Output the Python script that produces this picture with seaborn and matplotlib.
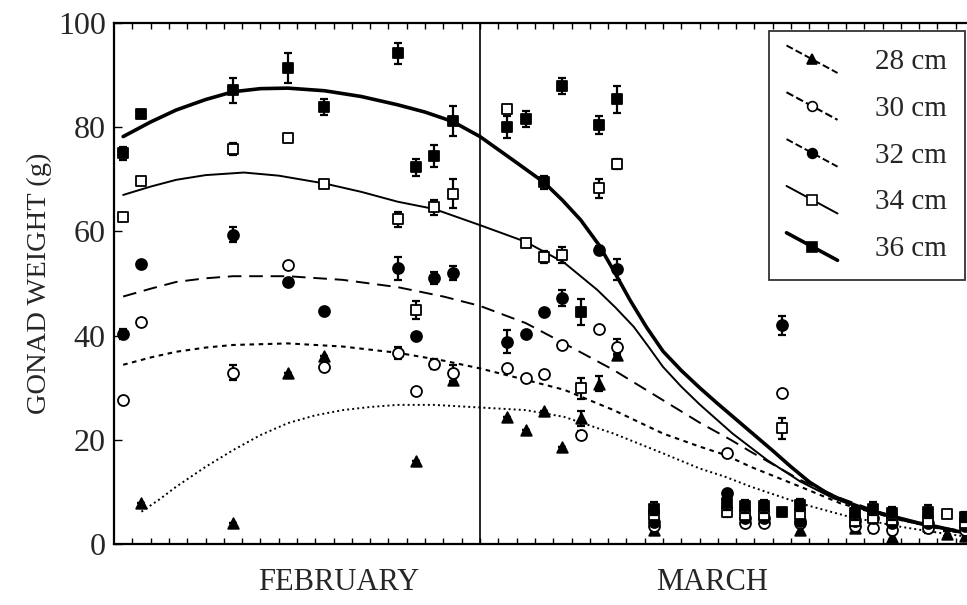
import matplotlib
matplotlib.use("Agg")
import matplotlib.pyplot as plt
import matplotlib.transforms as mtransforms
from matplotlib.legend_handler import HandlerLine2D
from matplotlib.lines import Line2D
import seaborn as sns
import pandas as pd

# Sampling positions on the time axis (one unit per tick; Feb/Mar boundary at 20)
feb_x = [0.5, 1.5, 6.5, 9.5, 11.5, 15.5, 16.5, 17.5, 18.5]
mar_x = [21.5, 22.5, 23.5, 24.5, 25.5, 26.5, 27.5]

# ---- mean gonad weight (g) and error per size class ----
x36 = feb_x + mar_x + [29.5, 33.5, 34.5, 35.5, 36.5, 37.5, 40.5, 41.5, 42.5, 44.5, 46.5]
y36 = [75.0, 82.5, 87.1, 91.3, 83.9, 94.2, 72.3, 74.5, 81.2,
       80.0, 81.6, 69.4, 87.9, 44.6, 80.4, 85.4,
       6.8, 7.8, 7.2, 7.2, 6.2, 7.5, 5.9, 6.8, 5.9, 6.2, 5.2]
e36 = [1.2, 0.0, 2.4, 2.9, 1.5, 2.0, 1.6, 2.1, 2.8,
       2.1, 1.5, 1.3, 1.5, 2.5, 1.7, 2.6,
       1.2, 1.2, 1.2, 1.2, 0.0, 1.2, 1.2, 1.2, 1.2, 1.2, 1.0]

x34 = feb_x + mar_x + [29.5, 33.5, 34.5, 35.5, 36.5, 37.5, 40.5, 41.5, 42.5, 44.5, 45.5, 46.5]
y34 = [62.7, 69.7, 75.8, 77.9, 69.1, 62.3, 44.9, 64.6, 67.2,
       83.5, 57.8, 55.1, 55.5, 29.9, 68.3, 72.9,
       5.6, 6.2, 5.6, 5.6, 22.2, 5.8, 4.5, 5.0, 4.6, 4.5, 5.8, 4.0]
e34 = [0.0, 0.0, 1.2, 0.8, 0.8, 1.5, 1.8, 1.5, 2.8,
       0.0, 0.8, 1.2, 1.5, 2.0, 1.8, 1.0,
       1.0, 1.0, 1.0, 1.0, 2.0, 1.0, 1.0, 1.0, 1.0, 1.0, 0.8, 0.8]

x32 = feb_x + [21.5, 22.5, 23.5, 24.5, 26.5, 27.5] + [29.5, 33.5, 34.5, 35.5, 36.5, 37.5, 40.5, 41.5, 42.5, 44.5, 46.5]
y32 = [40.3, 53.7, 59.4, 50.2, 44.7, 52.9, 40.0, 51.1, 52.0,
       38.8, 40.3, 44.6, 47.2, 56.4, 52.7,
       4.2, 9.7, 5.0, 5.0, 42.0, 4.5, 4.5, 5.0, 4.0, 4.0, 3.5]
e32 = [1.0, 0.0, 1.5, 0.0, 0.0, 2.2, 0.0, 1.2, 1.3,
       2.2, 0.0, 0.0, 1.5, 0.8, 2.0,
       0.0, 0.0, 0.8, 0.8, 1.8, 0.8, 0.8, 0.8, 0.8, 0.8, 0.8]

x30 = feb_x + mar_x + [29.5, 33.5, 34.5, 35.5, 36.5, 37.5, 40.5, 41.5, 42.5, 44.5, 46.5]
y30 = [27.6, 42.7, 32.9, 53.6, 34.0, 36.7, 29.4, 34.5, 32.8,
       33.8, 31.8, 32.6, 38.2, 20.9, 41.2, 37.9,
       3.5, 17.5, 4.0, 4.0, 29.0, 4.0, 3.5, 3.0, 2.7, 3.0, 2.7]
e30 = [0.0, 0.0, 1.5, 0.0, 0.0, 1.2, 0.0, 1.0, 1.5,
       0.0, 0.0, 0.0, 0.0, 0.8, 0.0, 1.5,
       0.0, 0.0, 0.8, 0.8, 0.0, 0.8, 0.8, 0.8, 0.8, 0.8, 0.6]

x28 = [1.5, 6.5, 9.5, 11.5, 16.5, 18.5] + mar_x + [29.5, 37.5, 40.5, 42.5, 44.5, 45.5, 46.5]
y28 = [7.9, 4.0, 32.9, 36.0, 15.9, 31.5,
       24.4, 21.9, 25.6, 18.7, 24.1, 30.8, 36.3,
       2.7, 2.7, 3.0, 1.4, 3.5, 2.0, 1.5]
e28 = [0.0, 0.0, 0.0, 0.0, 0.0, 0.8,
       0.0, 0.0, 0.0, 0.0, 1.5, 1.5, 0.0,
       0.0, 0.6, 0.6, 0.6, 0.6, 0.5, 0.5]

# ---- fitted seasonal curves ----
c36_x = [0.5, 2.0, 3.4, 5.0, 6.5, 8.0, 9.5, 11.5, 13.5, 15.5, 17.0, 18.5, 20.0, 21.8, 23.5,
         24.5, 25.5, 26.5, 27.3, 28.2, 29.1, 30.0, 31.0, 32.0, 33.0, 34.0, 35.0, 36.0, 37.0,
         38.0, 39.0, 40.0, 41.0, 42.0, 43.0, 44.0, 45.0, 46.4, 47.5]
c36_y = [78.2, 81.0, 83.3, 85.3, 86.8, 87.4, 87.5, 87.0, 85.9, 84.3, 82.9, 81.1, 78.2, 73.7, 69.4,
         66.0, 62.2, 57.4, 52.5, 46.8, 41.6, 37.0, 33.3, 30.0, 26.9, 23.9, 20.9, 17.9, 14.8,
         11.9, 9.7, 8.1, 6.8, 5.8, 4.9, 4.0, 3.3, 2.2, 1.7]
c34_x = [0.5, 2.0, 3.4, 5.0, 7.1, 9.0, 11.5, 13.5, 15.5, 17.5, 20.0, 22.5, 24.6, 26.4, 27.4,
         28.4, 29.2, 30.0, 31.0, 32.0, 33.8, 35.7, 37.5, 39.3, 41.1, 43.0, 44.8, 46.4, 47.5]
c34_y = [67.0, 68.6, 69.9, 70.8, 71.3, 70.7, 69.2, 67.6, 65.7, 64.3, 61.2, 58.0, 54.0, 48.8, 45.4,
         41.7, 37.9, 34.0, 30.2, 26.8, 21.2, 16.1, 12.0, 8.8, 6.5, 4.6, 3.2, 2.3, 1.9]
c32_x = [0.5, 2.0, 3.4, 5.0, 6.5, 9.5, 12.5, 15.5, 18.0, 20.0, 22.5, 24.6, 27.3, 30.0, 32.0,
         33.7, 34.8, 36.2, 37.5, 39.7, 41.5, 43.0, 44.8, 46.4, 47.5]
c32_y = [47.5, 49.0, 50.3, 51.0, 51.4, 51.4, 50.7, 49.3, 47.5, 45.7, 42.4, 38.5, 33.4, 27.6, 23.3,
         20.0, 17.7, 14.9, 12.3, 8.8, 6.5, 4.8, 3.4, 2.5, 2.1]
c30_x = [0.5, 2.0, 3.4, 5.0, 6.5, 9.5, 12.5, 15.5, 18.0, 20.0, 22.5, 24.6, 27.3, 30.0, 32.0,
         33.4, 34.8, 37.5, 39.7, 41.5, 43.0, 44.8, 46.4, 47.5]
c30_y = [34.4, 35.8, 36.9, 37.7, 38.2, 38.5, 37.9, 36.7, 35.2, 33.7, 31.5, 29.6, 25.7, 21.2, 18.7,
         17.1, 14.8, 11.0, 7.8, 6.0, 4.6, 3.2, 2.0, 1.7]
c28_x = [1.5, 2.5, 3.4, 5.0, 6.5, 8.0, 9.5, 11.0, 12.5, 14.0, 15.5, 17.5, 20.0, 22.5, 24.6,
         27.3, 30.0, 32.0, 33.4, 34.8, 37.5, 40.2, 43.0, 44.8, 46.4, 47.5]
c28_y = [6.2, 8.6, 11.0, 14.8, 18.0, 20.9, 23.2, 24.7, 25.7, 26.3, 26.7, 26.7, 26.2, 25.7, 24.4,
         21.2, 17.4, 14.5, 12.9, 11.0, 7.8, 5.2, 3.3, 2.3, 1.5, 1.2]

labels = ["28 cm", "30 cm", "32 cm", "34 cm", "36 cm"]
y_ticks = [0, 20, 40, 60, 80, 100]
month_names = ["FEBRUARY", "MARCH"]
month_pos = [12.3, 32.7]
month_edge = 20.0

sns.set_theme(style="white")
plt.rcParams["font.family"] = ["Liberation Serif", "DejaVu Serif"]

W, H = 967, 605
fig = plt.figure(figsize=(W / 100, H / 100), dpi=100)
x_max = 47.5
px_per_unit = 18.3
ax_left = 114 / W
ax_bottom = 1 - 544 / H
ax_height = (544 - 23) / H
ax_width = x_max * px_per_unit / W
ax = fig.add_axes([ax_left, ax_bottom, ax_width, ax_height])

styles = {
    "28 cm": dict(ls=(0, (1, 1.6)), lw=1.4, marker="^", mfc="black"),
    "30 cm": dict(ls=(0, (2.2, 2.2)), lw=1.5, marker="o", mfc="white"),
    "32 cm": dict(ls=(0, (7, 4)), lw=1.4, marker="o", mfc="black"),
    "34 cm": dict(ls="-", lw=1.4, marker="s", mfc="white"),
    "36 cm": dict(ls="-", lw=2.6, marker="s", mfc="black"),
}

curves = {
    "28 cm": (c28_x, c28_y), "30 cm": (c30_x, c30_y), "32 cm": (c32_x, c32_y),
    "34 cm": (c34_x, c34_y), "36 cm": (c36_x, c36_y),
}
points = {
    "28 cm": (x28, y28, e28), "30 cm": (x30, y30, e30), "32 cm": (x32, y32, e32),
    "34 cm": (x34, y34, e34), "36 cm": (x36, y36, e36),
}

# fitted curves
for lab in labels:
    cx, cy = curves[lab]
    st = styles[lab]
    df = pd.DataFrame({"x": cx, "y": cy})
    sns.lineplot(data=df, x="x", y="y", ax=ax, color="black", lw=st["lw"],
                 linestyle=st["ls"], sort=False, estimator=None, zorder=2)

# observed means with error bars
for i, lab in enumerate(labels):
    px, py, pe = points[lab]
    st = styles[lab]
    ax.errorbar(px, py, yerr=pe, fmt="none", ecolor="black", elinewidth=1.6,
                capsize=3, capthick=1.6, zorder=3 + i)
    df = pd.DataFrame({"x": px, "y": py})
    ms = 62 if st["marker"] != "^" else 58
    sns.scatterplot(data=df, x="x", y="y", ax=ax, marker=st["marker"], s=ms,
                    color=st["mfc"], edgecolor="black", linewidth=1.3,
                    zorder=3 + i, legend=False)

ax.axvline(month_edge, color="black", lw=1.2, zorder=1)

ax.set_xlim(0, x_max)
ax.set_ylim(0, 100)
ax.set_yticks(y_ticks)
ax.set_yticklabels([str(v) for v in y_ticks], fontsize=23)
ax.set_xticks(range(1, int(x_max) + 1))
ax.set_xticklabels([])
ax.tick_params(axis="x", direction="in", length=4, width=1, top=True, bottom=True, color="black")
ax.tick_params(axis="y", direction="in", length=6, width=1, left=True, pad=6, color="black")
ax.set_xlabel("")
ax.set_ylabel("GONAD WEIGHT (g)", fontsize=20.5, labelpad=4)
for s in ["left", "bottom", "top"]:
    ax.spines[s].set_color("black")
    ax.spines[s].set_linewidth(1.6)

trans = mtransforms.blended_transform_factory(ax.transData, ax.transAxes)
for name, pos in zip(month_names, month_pos):
    ax.text(pos, -0.073, name, transform=trans, ha="center", va="center", fontsize=22)


class SlopedLineHandler(HandlerLine2D):
    def create_artists(self, legend, orig_handle, xdescent, ydescent, width, height,
                       fontsize, trans):
        x0, x1 = -xdescent, -xdescent + width
        ytop, ybot = height * 1.15, -height * 0.2
        line = Line2D([x0, x1], [ytop, ybot], color="black",
                      lw=orig_handle.get_linewidth(), linestyle=orig_handle.get_linestyle())
        mk = Line2D([(x0 + x1) / 2], [(ytop + ybot) / 2], marker=orig_handle.get_marker(),
                    markersize=orig_handle.get_markersize(),
                    markerfacecolor=orig_handle.get_markerfacecolor(),
                    markeredgecolor="black", markeredgewidth=1.2, linestyle="none")
        line.set_transform(trans)
        mk.set_transform(trans)
        return [line, mk]


handles = []
for lab in labels:
    st = styles[lab]
    handles.append(Line2D([], [], color="black", lw=st["lw"], linestyle=st["ls"],
                          marker=st["marker"], markersize=7, markerfacecolor=st["mfc"]))
leg = fig.legend(handles, labels, loc="upper left", bbox_to_anchor=(769 / W, 1 - 31 / H),
                 fontsize=21, frameon=True, fancybox=False, edgecolor="black",
                 handlelength=1.75, handletextpad=1.3, labelspacing=0.7,
                 borderpad=0.6, borderaxespad=0, handler_map={Line2D: SlopedLineHandler()})
leg.get_frame().set_linewidth(1.3)

fig.savefig("out.png", dpi=100)
